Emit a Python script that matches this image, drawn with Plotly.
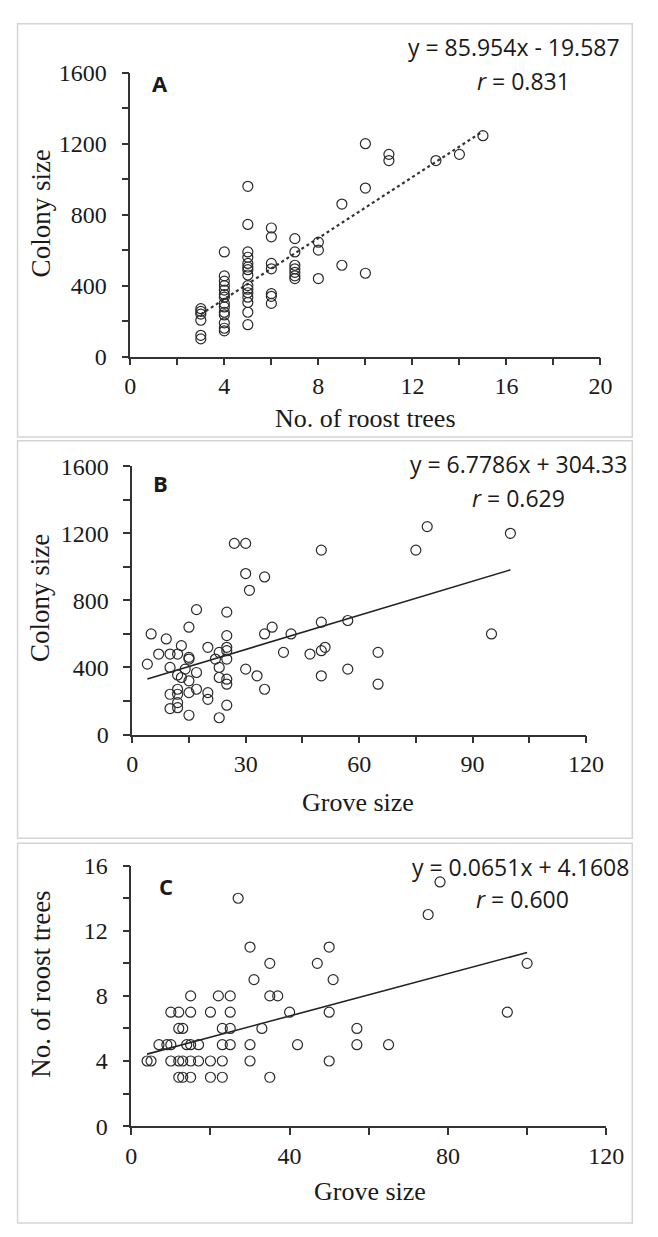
import plotly.graph_objects as go

W, H = 658, 1237

# ---------------- data ----------------
# Panel A: colony size vs number of roost trees
a_roost = [3, 3, 3, 3, 3, 3,
           4, 4, 4, 4, 4, 4, 4, 4, 4, 4, 4, 4, 4, 4,
           5, 5, 5, 5, 5, 5, 5, 5, 5, 5, 5, 5, 5, 5, 5,
           6, 6, 6, 6, 6, 6, 6,
           7, 7, 7, 7, 7, 7, 7,
           8, 8, 8,
           9, 9,
           10, 10, 10,
           11, 11,
           13, 14, 15]
a_colony = [270, 255, 240, 205, 120, 100,
            590, 455, 425, 400, 375, 350, 335, 300, 280, 250, 235, 190, 160, 145,
            960, 745, 590, 560, 525, 505, 490, 460, 400, 380, 360, 335, 305, 250, 180,
            725, 675, 525, 495, 355, 340, 300,
            665, 590, 515, 495, 475, 455, 440,
            645, 600, 440,
            860, 515,
            1200, 950, 470,
            1140, 1105,
            1105, 1140, 1245]

# Panel B: colony size vs grove size
b_grove = [27, 30, 50, 75, 78, 100, 30, 35, 31, 17, 25,
           5, 15, 9, 25, 35, 37, 42, 50, 57, 95,
           13, 20, 25, 25, 23, 7, 10, 12, 15, 15, 22, 25,
           40, 47, 50, 51, 65,
           4, 10, 14, 17, 23, 30, 33, 57, 50,
           12, 13, 23, 25, 25, 15, 35, 17, 65, 12,
           10, 12, 15, 20, 20, 12, 25, 10, 12, 15, 23]
b_colony = [1140, 1140, 1100, 1100, 1240, 1200, 960, 940, 860, 745, 730,
            600, 640, 570, 590, 600, 640, 600, 670, 680, 600,
            530, 520, 520, 500, 490, 480, 480, 480, 460, 450, 450, 450,
            490, 480, 500, 520, 490,
            420, 400, 390, 370, 400, 390, 350, 390, 350,
            355, 340, 340, 330, 300, 320, 270, 270, 300, 270,
            240, 240, 250, 250, 210, 190, 175, 155, 160, 115, 100]

# Panel C: number of roost trees vs grove size
c_grove = [78, 75, 27, 30, 50, 35, 47, 100, 31, 51,
           15, 22, 25, 35, 37,
           10, 12, 15, 20, 25, 40, 50, 95,
           12, 13, 23, 25, 33, 57,
           7, 9, 10, 14, 15, 17, 23, 25, 30, 42, 57, 65,
           4, 5, 10, 12, 13, 15, 17, 20, 23, 30, 50,
           12, 13, 15, 20, 23, 35]
c_roost = [15, 13, 14, 11, 11, 10, 10, 10, 9, 9,
           8, 8, 8, 8, 8,
           7, 7, 7, 7, 7, 7, 7, 7,
           6, 6, 6, 6, 6, 6,
           5, 5, 5, 5, 5, 5, 5, 5, 5, 5, 5, 5,
           4, 4, 4, 4, 4, 4, 4, 4, 4, 4, 4,
           3, 3, 3, 3, 3, 3]

# regression lines (slope, intercept, x extent)
a_fit = dict(slope=85.954, intercept=-19.587, xmin=3, xmax=15)
b_fit = dict(slope=6.7786, intercept=304.33, xmin=4, xmax=100)
c_fit = dict(slope=0.0651, intercept=4.1608, xmin=4, xmax=100)

a_eq = ["y = 85.954x - 19.587", "<i>r</i> = 0.831"]
b_eq = ["y = 6.7786x + 304.33", "<i>r</i> = 0.629"]
c_eq = ["y = 0.0651x + 4.1608", "<i>r</i> = 0.600"]
panel_letters = ["A", "B", "C"]

# ticks
a_xticks = [0, 2, 4, 6, 8, 10, 12, 14, 16, 18, 20]
a_xlabels = ["0", "", "4", "", "8", "", "12", "", "16", "", "20"]
ab_yticks = [0, 200, 400, 600, 800, 1000, 1200, 1400, 1600]
ab_ylabels = ["0", "", "400", "", "800", "", "1200", "", "1600"]
b_xticks = [0, 15, 30, 45, 60, 75, 90, 105, 120]
b_xlabels = ["0", "", "30", "", "60", "", "90", "", "120"]
c_xticks = [0, 20, 40, 60, 80, 100, 120]
c_xlabels = ["0", "", "40", "", "80", "", "120"]
c_yticks = [0, 2, 4, 6, 8, 10, 12, 14, 16]
c_ylabels = ["0", "", "4", "", "8", "", "12", "", "16"]

# ---------------- helpers ----------------
def px(x):
    return x / W

def py(y):
    return 1 - y / H

AXC = "#333333"
TXT = "#1a1a1a"
SERIF = "Liberation Serif"
SANS = "Open Sans"

def axis(domain, rng, tv, tt, anchor):
    return dict(domain=domain, range=rng, tickvals=tv, ticktext=tt,
                ticks="outside", ticklen=7, tickwidth=1.5, tickcolor=AXC,
                showline=True, linecolor=AXC, linewidth=1.5,
                showgrid=False, zeroline=False, anchor=anchor,
                tickfont=dict(family=SERIF, size=24, color=TXT),
                fixedrange=True)

marker = dict(symbol="circle-open", size=10, color="#2a2a2a",
              line=dict(width=1.2, color="#2a2a2a"))

fig = go.Figure()

def line_xy(fit):
    xs = [fit["xmin"], fit["xmax"]]
    ys = [fit["slope"] * v + fit["intercept"] for v in xs]
    return xs, ys

# Panel A
xs, ys = line_xy(a_fit)
fig.add_trace(go.Scatter(x=xs, y=ys, mode="lines", xaxis="x", yaxis="y",
                         line=dict(color="#333333", width=2.2, dash="dot"), showlegend=False))
fig.add_trace(go.Scatter(x=a_roost, y=a_colony, mode="markers", xaxis="x", yaxis="y",
                         marker=marker, showlegend=False, cliponaxis=False))
# Panel B
xs, ys = line_xy(b_fit)
fig.add_trace(go.Scatter(x=xs, y=ys, mode="lines", xaxis="x2", yaxis="y2",
                         line=dict(color="#222222", width=1.6), showlegend=False))
fig.add_trace(go.Scatter(x=b_grove, y=b_colony, mode="markers", xaxis="x2", yaxis="y2",
                         marker=marker, showlegend=False, cliponaxis=False))
# Panel C
xs, ys = line_xy(c_fit)
fig.add_trace(go.Scatter(x=xs, y=ys, mode="lines", xaxis="x3", yaxis="y3",
                         line=dict(color="#222222", width=1.6), showlegend=False))
fig.add_trace(go.Scatter(x=c_grove, y=c_roost, mode="markers", xaxis="x3", yaxis="y3",
                         marker=marker, showlegend=False, cliponaxis=False))

layout = dict(
    width=W, height=H, margin=dict(l=0, r=0, t=0, b=0),
    paper_bgcolor="white", plot_bgcolor="white",
    xaxis=axis([px(129), px(617)], [0, 20], a_xticks, a_xlabels, "y"),
    yaxis=axis([py(351), py(61)], [0, 1600], ab_yticks, ab_ylabels, "x"),
    xaxis2=axis([px(131), px(602)], [0, 120], b_xticks, b_xlabels, "y2"),
    yaxis2=axis([py(737), py(463)], [0, 1600], ab_yticks, ab_ylabels, "x2"),
    xaxis3=axis([px(130), px(623)], [0, 120], c_xticks, c_xlabels, "y3"),
    yaxis3=axis([py(1137), py(871)], [0, 16], c_yticks, c_ylabels, "x3"),
)
for k in ["yaxis", "yaxis2", "yaxis3"]:
    layout[k]["ticklabelstandoff"] = 10
for k in ["xaxis", "xaxis2", "xaxis3"]:
    layout[k]["ticklabelstandoff"] = 0
fig.update_layout(**layout)

# panel frames
frames = [(12, 11, 650, 433), (12, 437, 650, 843), (12, 848, 650, 1236)]
for (x0, y0, x1, y1) in frames:
    fig.add_shape(type="rect", xref="paper", yref="paper",
                  x0=px(x0), x1=px(x1), y0=py(y1), y1=py(y0),
                  line=dict(color="#d4d4d4", width=1.5), fillcolor="rgba(0,0,0,0)")

ann = []
def text(x, y, s, size, family, angle=0, bold=False):
    ann.append(dict(x=px(x), y=py(y), xref="paper", yref="paper", text=("<b>%s</b>" % s) if bold else s,
                    showarrow=False, xanchor="center", yanchor="middle", textangle=angle,
                    font=dict(family=family, size=size, color=TXT)))

# equations
for eq, (x1, y1, x2, y2) in [(a_eq, (527, 35, 537, 69)),
                              (b_eq, (532, 461, 532, 495)),
                              (c_eq, (534, 872, 536, 905))]:
    text(x1, y1, eq[0], 23, SANS)
    text(x2, y2, eq[1], 23, SANS)

# panel letters
for letter, (x, y) in zip(panel_letters, [(160, 72), (160, 480), (166, 892)]):
    text(x, y, letter, 22, SANS, bold=True)

# axis titles
text(373, 414, "No. of roost trees", 26, SERIF)
text(36, 205, "Colony size", 27, SERIF, angle=-90)
text(365, 806, "Grove size", 26, SERIF)
text(36, 598, "Colony size", 27, SERIF, angle=-90)
text(378, 1204, "Grove size", 26, SERIF)
text(36, 992, "No. of roost trees", 27, SERIF, angle=-90)

fig.update_layout(annotations=ann)
fig.write_html("out.html")
